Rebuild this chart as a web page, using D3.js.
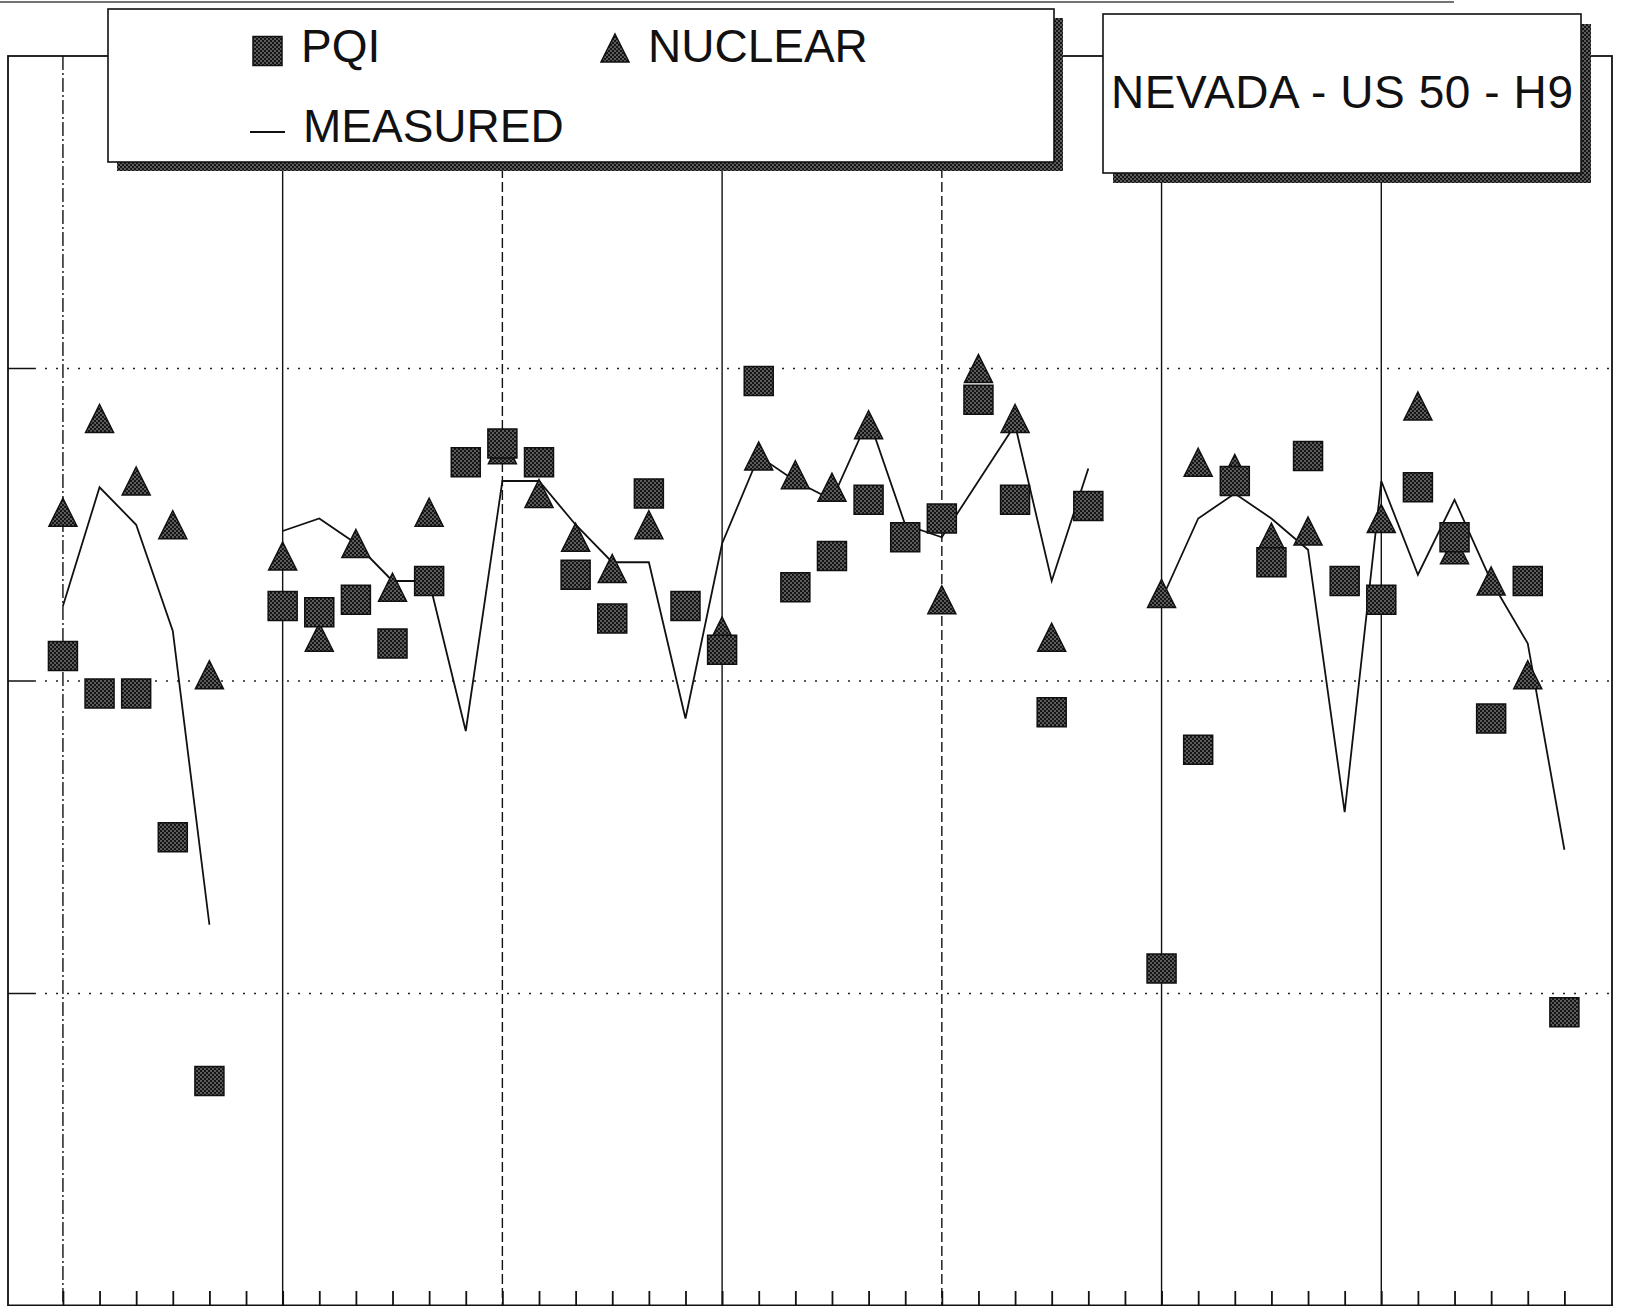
<!DOCTYPE html>
<html>
<head>
<meta charset="utf-8">
<script src="https://cdn.jsdelivr.net/npm/d3@7"></script>
<style>
  body { margin: 0; background: #fff; }
  svg { display: block; }
  text { font-family: "Liberation Sans", Arial, sans-serif; fill: #111; }
</style>
</head>
<body>
<div id="chart"></div>
<script>
// station numbers along the section (5 and 29 are gaps between the runs)
var stations = [0,1,2,3,4,5,6,7,8,9,10,11,12,13,14,15,16,17,18,19,20,
                21,22,23,24,25,26,27,28,29,30,31,32,33,34,35,36,37,38,39,40,41]
var majorStations = [0, 6, 12, 18, 24, 30, 36]

// density readings
var pqi = [140.4, 139.8, 139.8, 137.5, 133.6, null,
           141.2, 141.1, 141.3, 140.6, 141.6, 143.5, 143.8, 143.5, 141.7, 141.0, 143.0, 141.2,
           140.5, 144.8, 141.5, 142.0, 142.9, 142.3, 142.6, 144.5, 142.9, 139.5, 142.8, null,
           135.4, 138.9, 143.2, 141.9, 143.6, 141.6, 141.3, 143.1, 142.3, 139.4, 141.6, 134.7]
var nuclear = [142.7, 144.2, 143.2, 142.5, 140.1, null,
               142.0, 140.7, 142.2, 141.5, 142.7, null, 143.7, 143.0, 142.3, 141.8, 142.5, null,
               140.8, 143.6, 143.3, 143.1, 144.1, null, 141.3, 145.0, 144.2, 140.7, 142.8, null,
               141.4, 143.5, 143.4, 142.3, 142.4, null, 142.6, 144.4, 142.1, 141.6, 140.1, null]
var measured = [141.2, 143.1, 142.5, 140.8, 136.1, null,
                142.4, 142.6, 142.2, 141.6, 141.6, 139.2, 143.2, 143.2, 142.5, 141.9, 141.9, 139.4,
                142.2, 143.6, 143.2, 142.9, 144.2, 142.5, 142.3, 143.2, 144.1, 141.6, 143.4, null,
                141.3, 142.6, 143.0, 142.6, 142.1, 137.9, 143.2, 141.7, 142.9, 141.6, 140.6, 137.3]
var yGrid = [135, 140, 145]

var legendLabels = ["PQI", "NUCLEAR", "MEASURED"]
var title = "NEVADA - US 50 - H9"

// page size and plot frame
var width = 1627, height = 1306
var plotLeft = 8, plotRight = 1612, plotTop = 56, plotBottom = 1306

var svg = d3.select("#chart").append("svg")
    .attr("width", width)
    .attr("height", height)

// stipple fill used by the markers and the box shadows
var defs = svg.append("defs")
var pat = defs.append("pattern")
    .attr("id", "stipple")
    .attr("patternUnits", "userSpaceOnUse")
    .attr("width", 4).attr("height", 4)
pat.append("rect").attr("width", 4).attr("height", 4).attr("fill", "#151515")
pat.append("circle").attr("cx", 1).attr("cy", 1).attr("r", 0.7).attr("fill", "#d8d8d8")
pat.append("circle").attr("cx", 3).attr("cy", 3).attr("r", 0.7).attr("fill", "#d8d8d8")

var x = d3.scaleLinear().domain([-1.5, 42.3]).range([plotLeft, plotRight])
var y = d3.scaleLinear().domain([130, 150]).range([plotBottom, plotTop])

// scan edge at the very top
svg.append("line")
    .attr("x1", 0).attr("x2", 1454).attr("y1", 2).attr("y2", 2)
    .attr("stroke", "#444").attr("stroke-width", 1.5)

// plot frame
svg.append("rect")
    .attr("x", plotLeft).attr("y", plotTop)
    .attr("width", plotRight - plotLeft).attr("height", plotBottom - plotTop + 2)
    .attr("fill", "none").attr("stroke", "#111").attr("stroke-width", 1.8)

// horizontal dotted grid + short left ticks
svg.selectAll("hgrid").data(yGrid).enter().append("line")
    .attr("x1", plotLeft + 26).attr("x2", plotRight)
    .attr("y1", function(d) { return y(d) }).attr("y2", function(d) { return y(d) })
    .attr("stroke", "#222").attr("stroke-width", 1.5)
    .attr("stroke-dasharray", "2,9")
svg.selectAll("ytick").data(yGrid).enter().append("line")
    .attr("x1", plotLeft).attr("x2", plotLeft + 26)
    .attr("y1", function(d) { return y(d) }).attr("y2", function(d) { return y(d) })
    .attr("stroke", "#111").attr("stroke-width", 1.5)

// vertical grid at every sixth station
svg.selectAll("vgrid").data(majorStations).enter().append("line")
    .attr("x1", function(d) { return x(d) }).attr("x2", function(d) { return x(d) })
    .attr("y1", plotTop).attr("y2", plotBottom)
    .attr("stroke", "#111").attr("stroke-width", 1.4)
    .attr("stroke-dasharray", function(d) {
      if (d == 0) return "14,3,2,3"
      if (d == 12 || d == 24) return "10,4"
      return null
    })

// x axis with inward ticks at each station
svg.append("g")
    .attr("transform", "translate(0," + (plotBottom - 1) + ")")
    .call(d3.axisTop(x).tickValues(stations).tickSize(14).tickSizeOuter(0).tickFormat(""))
    .call(function(g) {
      g.selectAll("line").attr("stroke", "#111").attr("stroke-width", 1.8)
      g.select(".domain").attr("stroke", "#111").attr("stroke-width", 2)
    })

// measured line (broken at the gaps)
var line = d3.line()
    .defined(function(d) { return d != null })
    .x(function(d, i) { return x(stations[i]) })
    .y(function(d) { return y(d) })

svg.append("path")
    .datum(measured)
    .attr("d", line)
    .attr("fill", "none")
    .attr("stroke", "#111")
    .attr("stroke-width", 1.8)

var triSize = 28, sqSize = 29

function triPath(cx, cy, s) {
  return "M" + cx + "," + (cy - s / 2) + "L" + (cx + s / 2) + "," + (cy + s / 2) +
         "L" + (cx - s / 2) + "," + (cy + s / 2) + "Z"
}

// nuclear triangles
svg.selectAll("tri")
    .data(nuclear.map(function(v, i) { return { s: stations[i], v: v } })
                 .filter(function(d) { return d.v != null }))
    .enter().append("path")
    .attr("d", function(d) { return triPath(x(d.s), y(d.v), triSize) })
    .attr("fill", "url(#stipple)")
    .attr("stroke", "#111").attr("stroke-width", 1.5)

// pqi squares
svg.selectAll("sq")
    .data(pqi.map(function(v, i) { return { s: stations[i], v: v } })
             .filter(function(d) { return d.v != null }))
    .enter().append("rect")
    .attr("x", function(d) { return x(d.s) - sqSize / 2 })
    .attr("y", function(d) { return y(d.v) - sqSize / 2 })
    .attr("width", sqSize).attr("height", sqSize)
    .attr("fill", "url(#stipple)")
    .attr("stroke", "#111").attr("stroke-width", 1.5)

// boxes with stippled drop shadow
function shadowBox(x0, y0, x1, y1, off) {
  svg.append("rect")
      .attr("x", x0 + off).attr("y", y0 + off)
      .attr("width", x1 - x0).attr("height", y1 - y0)
      .attr("fill", "url(#stipple)")
  svg.append("rect")
      .attr("x", x0).attr("y", y0)
      .attr("width", x1 - x0).attr("height", y1 - y0)
      .attr("fill", "#fff").attr("stroke", "#111").attr("stroke-width", 1.6)
}

// legend
shadowBox(108, 9, 1054, 162, 9)
svg.append("rect")
    .attr("x", 267.5 - sqSize / 2).attr("y", 51 - sqSize / 2)
    .attr("width", sqSize).attr("height", sqSize)
    .attr("fill", "url(#stipple)").attr("stroke", "#111").attr("stroke-width", 1.5)
svg.append("path")
    .attr("d", triPath(615, 48, triSize))
    .attr("fill", "url(#stipple)").attr("stroke", "#111").attr("stroke-width", 1.5)
svg.append("line")
    .attr("x1", 250).attr("x2", 285).attr("y1", 132).attr("y2", 132)
    .attr("stroke", "#111").attr("stroke-width", 1.8)
svg.append("text").attr("x", 301).attr("y", 62).attr("font-size", 46).text(legendLabels[0])
svg.append("text").attr("x", 648).attr("y", 62).attr("font-size", 46).text(legendLabels[1])
svg.append("text").attr("x", 303).attr("y", 142).attr("font-size", 46).text(legendLabels[2])

// title box
shadowBox(1103, 14, 1581, 173, 10)
svg.append("text")
    .attr("x", 1342).attr("y", 108)
    .attr("text-anchor", "middle")
    .attr("font-size", 46)
    .attr("textLength", 462)
    .text(title)
</script>
</body>
</html>
